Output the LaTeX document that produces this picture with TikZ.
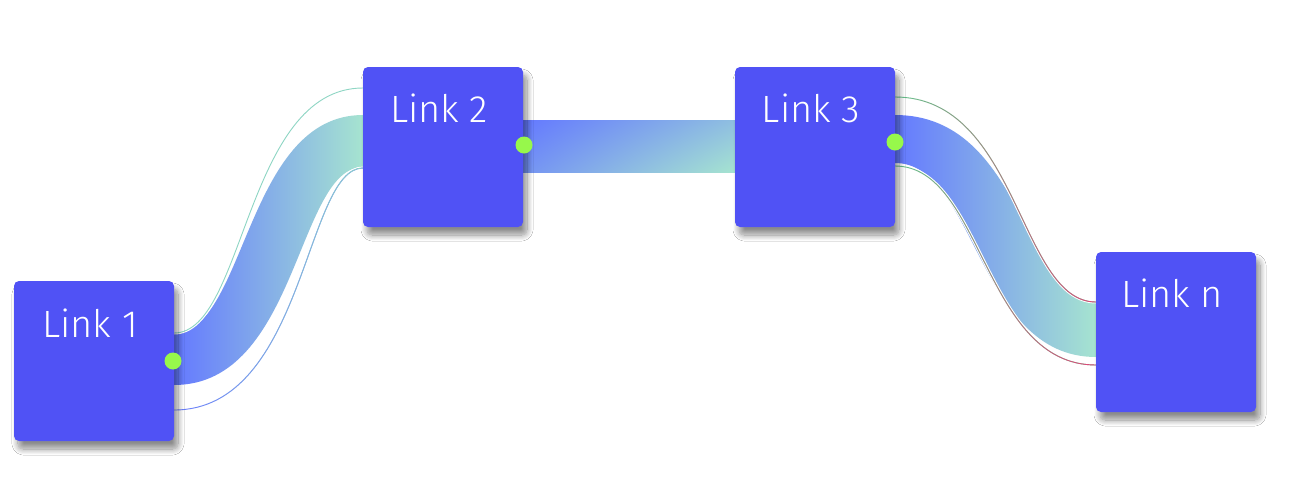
\documentclass[tikz,border=0pt]{standalone}
\usepackage{fontspec}
\setmainfont{Fira Sans Light}
\usetikzlibrary{shadows.blur,fadings,shadings,calc}
\definecolor{boxc}{HTML}{5052F5}
\definecolor{bandblue}{HTML}{6479FF}
\definecolor{bandteal}{HTML}{A6E4D0}
\definecolor{dotc}{HTML}{97F84B}
\definecolor{linegreen}{HTML}{63C58C}
\definecolor{linepink}{HTML}{E2457A}
\definecolor{lineteal}{HTML}{8ED6C4}
\definecolor{lineblue}{HTML}{6C7DFF}
\tikzfading[name=opaqueright, left color=transparent!100, right color=transparent!0]
\begin{document}
\begin{tikzpicture}[x=1pt,y=-1pt,
  linkbox/.style={rectangle, rounded corners=5pt, fill=boxc, minimum width=160pt, minimum height=160pt,
    inner sep=0pt, outer sep=0pt,
    blur shadow={shadow xshift=4pt, shadow yshift=-8pt, shadow blur radius=6pt, shadow opacity=45, shadow blur steps=12}},
  linktext/.style={anchor=base, text=white, font=\fontsize{38}{40}\selectfont, inner sep=0pt},
  dotnode/.style={circle, fill=dotc, minimum size=17pt, inner sep=0pt},
  thinline/.style={line width=0.9pt},
  halo/.style={white, line width=3pt},
]
\useasboundingbox[fill=white] (0,0) rectangle (1290,480);

\path (94,361) coordinate (c1) (443,147) coordinate (c2) (815,147) coordinate (c3) (1176,332) coordinate (cn);
\coordinate (l1e) at (174,361);
\coordinate (l2w) at (363,147);
\coordinate (l2e) at (523,147);
\coordinate (l3w) at (735,147);
\coordinate (l3e) at (895,147);
\coordinate (lnw) at (1096,332);

% band Link 1 -> Link 2
\shade[left color=bandblue, right color=bandteal]
  ($(l1e)+(0,-28)$) .. controls +(72,0) and +(-118,0) .. ($(l2w)+(0,-32)$)
  -- ($(l2w)+(0,20)$) .. controls +(-66,0) and +(124,0) .. ($(l1e)+(0,24)$) -- cycle;
\draw[halo] ($(l1e)+(0,-28)$) .. controls +(71,0) and +(-118,0) .. ($(l2w)+(0,-59)$);
\draw[thinline, lineteal] ($(l1e)+(0,-28)$) .. controls +(71,0) and +(-118,0) .. ($(l2w)+(0,-59)$);
\draw[halo] ($(l1e)+(0,49)$) .. controls +(131,0) and +(-58,0) .. ($(l2w)+(0,21)$);
\draw[thinline, lineblue] ($(l1e)+(0,49)$) .. controls +(131,0) and +(-58,0) .. ($(l2w)+(0,21)$);
\draw[thinline, lineteal, path fading=opaqueright] ($(l1e)+(0,49)$) .. controls +(131,0) and +(-58,0) .. ($(l2w)+(0,21)$);

% band Link 2 -> Link 3
\shade[upper left=bandblue, lower left=bandblue!75!bandteal, upper right=bandblue!35!bandteal, lower right=bandteal]
  ($(l2e)+(0,-27)$) rectangle ($(l3w)+(0,25)$);

% band Link 3 -> Link n
\shade[left color=bandblue, right color=bandteal]
  ($(l3e)+(0,-32)$) .. controls +(129,0) and +(-71,0) .. ($(lnw)+(0,-29)$)
  -- ($(lnw)+(0,25)$) .. controls +(-119,0) and +(81,0) .. ($(l3e)+(0,16)$) -- cycle;
\draw[halo] ($(l3e)+(0,-50)$) .. controls +(124,0) and +(-77,0) .. ($(lnw)+(0,-30)$);
\draw[halo] ($(l3e)+(0,19)$) .. controls +(88,0) and +(-113,0) .. ($(lnw)+(0,33)$);
\draw[thinline, linegreen] ($(l3e)+(0,-50)$) .. controls +(124,0) and +(-77,0) .. ($(lnw)+(0,-30)$);
\draw[thinline, linepink, path fading=opaqueright] ($(l3e)+(0,-50)$) .. controls +(124,0) and +(-77,0) .. ($(lnw)+(0,-30)$);
\draw[thinline, linegreen] ($(l3e)+(0,19)$) .. controls +(88,0) and +(-113,0) .. ($(lnw)+(0,33)$);
\draw[thinline, linepink, path fading=opaqueright] ($(l3e)+(0,19)$) .. controls +(88,0) and +(-113,0) .. ($(lnw)+(0,33)$);

% boxes
\node[linkbox] (l1) at (c1) {};
\node[linkbox] (l2) at (c2) {};
\node[linkbox] (l3) at (c3) {};
\node[linkbox] (ln) at (cn) {};

\node[linktext] (t1) at ([xshift=-4pt,yshift=-56pt]l1.north) {Link 1};
\node[linktext] (t2) at ([xshift=-4pt,yshift=-55pt]l2.north) {Link 2};
\node[linktext] (t3) at ([xshift=-4pt,yshift=-55pt]l3.north) {Link 3};
\node[linktext] (tn) at ([xshift=-4pt,yshift=-55pt]ln.north) {Link n};

% dots
\node[dotnode] (d1) at ([xshift=-1pt]l1.east) {};
\node[dotnode] (d2) at ([xshift=1pt,yshift=2pt]l2.east) {};
\node[dotnode] (d3) at ([yshift=5pt]l3.east) {};
\end{tikzpicture}
\end{document}
